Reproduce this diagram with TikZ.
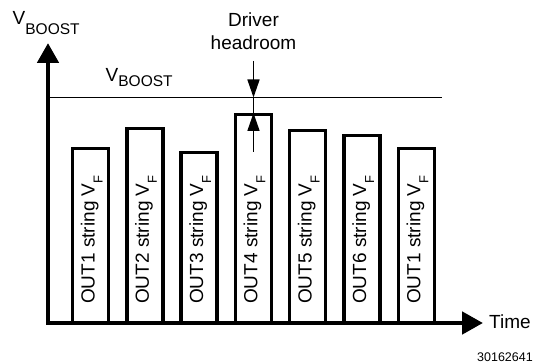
\documentclass[tikz,border=0pt]{standalone}
\usepackage{fontspec}
\setmainfont{Liberation Sans}
\usetikzlibrary{arrows.meta}
\newcommand{\lsub}[3]{\raisebox{-#1}{\fontsize{#2}{#2}\selectfont #3}}
\begin{document}
\begin{tikzpicture}[x=1pt,y=-1pt,
  lbl/.style={inner sep=0pt, font=\fontsize{19}{22}\selectfont},
  barlbl/.style={lbl, rotate=90, anchor=base west},
  axisline/.style={line width=4.8pt, line join=miter,
    {Triangle[length=20pt,width=21pt]}-{Triangle[length=21pt,width=22pt]}},
  barline/.style={line width=3.4pt, line join=miter},
  harrow/.style={line width=1.6pt, -{Triangle[length=18pt,width=12pt]}},
  thin/.style={line width=1.6pt}]
\useasboundingbox (0,0) rectangle (534,363);
% bars
\foreach \i/\h/\lab in {1/148.5/OUT1, 2/128.5/OUT2, 3/152.5/OUT3, 4/114.5/OUT4, 5/130.5/OUT5, 6/135.5/OUT6, 7/148.5/OUT1}{
  \pgfmathsetmacro\l{72.5+54.3*(\i-1)}
  \pgfmathsetmacro\r{\l+36}
  \draw[barline] (\l,323) -- (\l,\h) -- (\r,\h) -- (\r,323);
  \node[barlbl] (lbl\i) at (\l+22,304) {\lab\ string V\lsub{8pt}{13}{F}};
}
% VBOOST level
\coordinate (vl) at (50,97.5);
\coordinate (vr) at (442,97.5);
\draw[thin] (vl) -- (vr);
% axes
\coordinate (ytip) at (48,43);
\coordinate (xtip) at (483,323);
\draw[axisline] (ytip) |- (xtip);
% headroom arrows
\coordinate (hd) at (253.5,61);
\coordinate (hb) at (253.5,97.5);
\coordinate (hu) at (253.5,152);
\coordinate (ht) at (253.5,113);
\draw[harrow] (hd) -- (hb);
\draw[thin] (hb) -- (ht);
\draw[harrow] (hu) -- (ht);
% labels
\node[lbl, anchor=base west] (ylab) at (12.5,25) {V\lsub{10pt}{15.5}{BOOST}};
\node[lbl, anchor=base west] (vlab) at (105.5,82) {V\lsub{5pt}{15.5}{BOOST}};
\node[lbl, anchor=base] (driver) at (253.5,27) {Driver};
\node[lbl, anchor=base] (headroom) at (253.5,50) {headroom};
\node[lbl, anchor=base west] (time) at (489,328) {Time};
\node[inner sep=0pt, font=\fontsize{12.5}{14}\selectfont, anchor=base east] (fig) at (533,361.5) {30162641};
\end{tikzpicture}
\end{document}
